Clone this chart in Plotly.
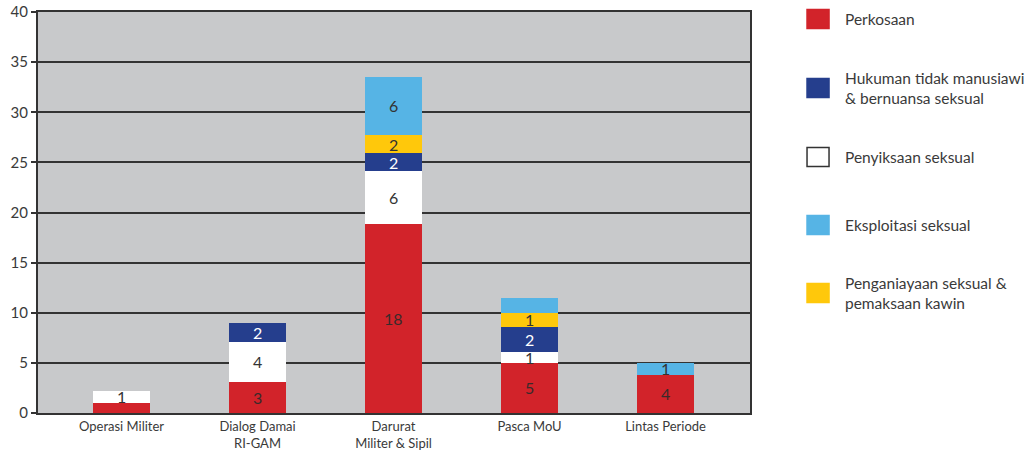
import plotly.graph_objects as go

categories = ["Operasi Militer", "Dialog Damai<br>RI-GAM", "Darurat<br>Militer & Sipil", "Pasca MoU", "Lintas Periode"]

# stacked order (bottom -> top)
series_names = ["Perkosaan", "Penyiksaan seksual", "Hukuman tidak manusiawi<br>& bernuansa seksual",
                "Penganiayaan seksual &<br>pemaksaan kawin", "Eksploitasi seksual"]
perkosaan = [1.0, 3.1, 18.9, 5.0, 3.8]
penyiksaan = [1.2, 4.0, 5.2, 1.1, 0.0]
hukuman = [0.0, 1.9, 1.8, 2.5, 0.0]
penganiayaan = [0.0, 0.0, 1.8, 1.4, 0.0]
eksploitasi = [0.0, 0.0, 5.85, 1.5, 1.2]

lbl_perkosaan = ["", "3", "18", "5", "4"]
lbl_penyiksaan = ["1", "4", "6", "1", ""]
lbl_hukuman = ["", "2", "2", "2", ""]
lbl_penganiayaan = ["", "", "2", "1", ""]
lbl_eksploitasi = ["", "", "6", "", "1"]

legend_order = [0, 2, 1, 4, 3]
colors = ["#D2232A", "#FFFFFF", "#253E8D", "#FFC80B", "#56B4E5"]
text_colors = ["#3a2a2a", "#333333", "#FFFFFF", "#333333", "#333333"]
y_ticks = [0, 5, 10, 15, 20, 25, 30, 35, 40]

values = [perkosaan, penyiksaan, hukuman, penganiayaan, eksploitasi]
labels = [lbl_perkosaan, lbl_penyiksaan, lbl_hukuman, lbl_penganiayaan, lbl_eksploitasi]

FONT = "Lato"
xs = list(range(len(categories)))

fig = go.Figure()
for name, vals, col in zip(series_names, values, colors):
    fig.add_trace(go.Bar(x=xs, y=vals, name=name, marker=dict(color=col, line=dict(width=0)),
                         width=0.42, showlegend=False, hoverinfo="y+name"))

annotations = []
base = [0.0] * len(categories)
for vals, labs, tc in zip(values, labels, text_colors):
    for i, (v, t) in enumerate(zip(vals, labs)):
        if t:
            annotations.append(dict(x=i, y=base[i] + v / 2, xref="x", yref="y", text=t, showarrow=False,
                                    font=dict(family=FONT, size=16, color=tc)))
        base[i] += v

# custom legend
leg_y = [0.9825, 0.8105, 0.6384, 0.4688, 0.2993]
for k, idx in enumerate(legend_order):
    y = leg_y[k]
    fig.add_shape(type="rect", xref="paper", yref="paper", x0=1.0801, x1=1.1110, y0=y - 0.0237, y1=y + 0.0237,
                  fillcolor=colors[idx], line=dict(color="#333333" if colors[idx] == "#FFFFFF" else colors[idx], width=1.5))
    annotations.append(dict(x=1.1306, y=y, xref="paper", yref="paper", text=series_names[idx], showarrow=False,
                            xanchor="left", yanchor="middle", align="left",
                            font=dict(family=FONT, size=15.5, color="#3a3a3a")))

fig.update_layout(
    width=1030, height=456,
    margin=dict(l=38, r=280, t=12, b=43, autoexpand=False),
    plot_bgcolor="#C8C9CB", paper_bgcolor="#FFFFFF",
    barmode="stack", bargap=0,
    annotations=annotations,
    font=dict(family=FONT, color="#3a3a3a"),
)
fig.update_xaxes(range=[-0.614, 4.621], tickvals=xs, ticktext=categories, showgrid=False,
                 showline=True, linecolor="#333333", linewidth=2, mirror=True, ticks="",
                 tickfont=dict(family=FONT, size=13, color="#3a3a3a"), zeroline=False, automargin=False)
fig.update_yaxes(range=[0, 40], tickvals=y_ticks, showgrid=True, gridcolor="#333333", gridwidth=1.5,
                 showline=True, linecolor="#333333", linewidth=2, mirror=True, ticks="outside", ticklen=5,
                 tickcolor="#333333", tickwidth=1.5, zeroline=False, automargin=False,
                 tickfont=dict(family=FONT, size=15, color="#3a3a3a"))

fig.write_html("out.html", config={"displayModeBar": False},
               post_script="document.body.style.margin='0';")
